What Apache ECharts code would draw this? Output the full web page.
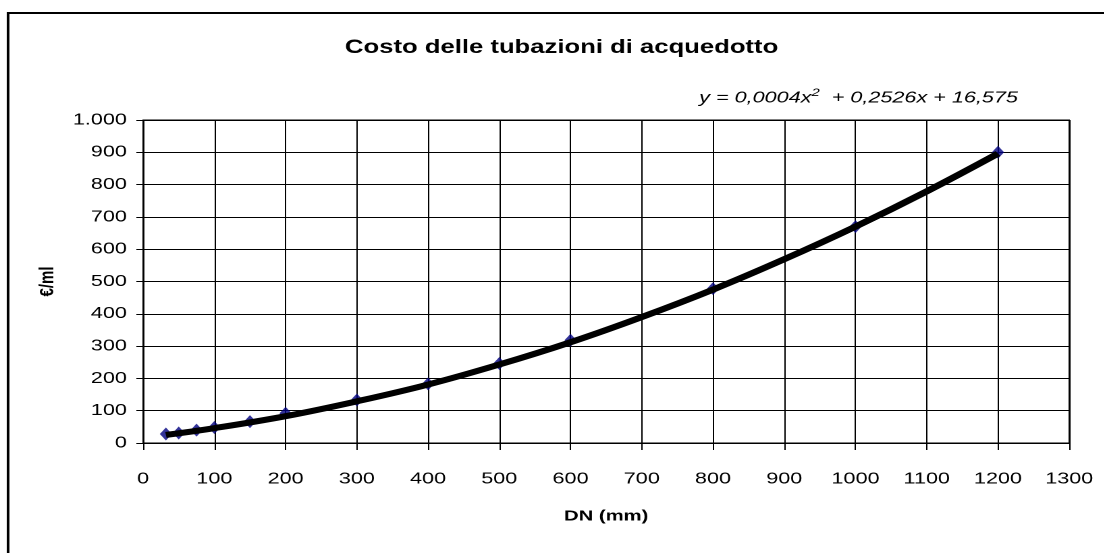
<!DOCTYPE html>
<html>
<head>
<meta charset="utf-8">
<script src="https://cdn.jsdelivr.net/npm/echarts@6/dist/echarts.min.js"></script>
<style>
html,body{margin:0;padding:0;background:#fff;overflow:hidden;}
#wrap{width:1104px;height:553px;overflow:hidden;position:relative;}
/* the reference picture is stretched horizontally; reproduce that stretch */
#c{width:818px;height:553px;transform:scaleX(1.35);transform-origin:0 0;position:absolute;left:0;top:0;}
</style>
</head>
<body>
<div id="wrap"><div id="c"></div></div>
<script>
// Data
const dn = [32, 50, 75, 100, 150, 200, 300, 400, 500, 600, 800, 1000, 1200];
const cost = [28, 31, 40, 48, 66, 92, 133, 183, 246, 318, 478, 670, 900];
// Polynomial trendline
const trendDN = [32, 100, 200, 300, 400, 500, 600, 700, 800, 900, 1000, 1100, 1200];
const trendCost = [25, 46, 83, 129, 181, 243, 312, 390, 475, 569, 670, 779, 896];
const titleText = 'Costo delle tubazioni di acquedotto';
const xName = 'DN (mm)';
const yName = '€/ml';

const FONT = '"Liberation Sans", Arial, sans-serif';
const chart = echarts.init(document.getElementById('c'), null, {renderer: 'canvas', devicePixelRatio: 2});

function thousands(v) {
  return String(v).replace(/\B(?=(\d{3})+(?!\d))/g, '.');
}
function plain(v) {
  return String(v);
}

chart.setOption({
  animation: false,
  backgroundColor: '#fff',
  grid: {left: 106, right: 26, top: 120, bottom: 110, containLabel: false, show: true, borderColor: '#000', borderWidth: 1},
  graphic: [
    {type: 'rect', shape: {x: 6, y: 13, width: 900, height: 570}, style: {fill: null, stroke: '#000', lineWidth: 2}, silent: true},
    {type: 'text', x: 416, y: 48, style: {text: titleText, font: 'bold 19px ' + FONT, fill: '#000', align: 'center', verticalAlign: 'middle'}},
    {type: 'text', x: 754, y: 98, style: {
      text: '{a|y = 0,0004x}{s|2}{a|  + 0,2526x + 16,575}',
      align: 'right', verticalAlign: 'middle',
      rich: {
        a: {font: 'italic 16px ' + FONT, fill: '#000'},
        s: {font: 'italic 11px ' + FONT, fill: '#000', verticalAlign: 'top', padding: [0, 0, 10, 0]}
      }
    }}
  ],
  xAxis: {
    type: 'value', min: 0, max: 1300, interval: 100,
    name: xName, nameLocation: 'middle', nameGap: 66,
    nameTextStyle: {fontFamily: FONT, fontSize: 15, fontWeight: 'bold', color: '#000'},
    axisLine: {show: true, onZero: false, lineStyle: {color: '#000', width: 1}},
    axisTick: {show: true, inside: false, length: 7, lineStyle: {color: '#000'}},
    axisLabel: {fontFamily: FONT, fontSize: 16, color: '#000', margin: 28, formatter: plain},
    splitLine: {show: true, lineStyle: {color: '#000', width: 1}}
  },
  yAxis: {
    type: 'value', min: 0, max: 1000, interval: 100,
    name: yName, nameLocation: 'middle', nameGap: 53, nameRotate: 90,
    nameTextStyle: {fontFamily: FONT, fontSize: 15, fontWeight: 'bold', color: '#000'},
    axisLine: {show: true, lineStyle: {color: '#000', width: 1}},
    axisTick: {show: true, inside: false, length: 5, lineStyle: {color: '#000'}},
    axisLabel: {fontFamily: FONT, fontSize: 16, color: '#000', margin: 12, formatter: thousands},
    splitLine: {show: true, lineStyle: {color: '#000', width: 1}}
  },
  series: [
    {
      type: 'scatter', name: 'Costo',
      data: dn.map((d, i) => [d, cost[i]]),
      symbol: 'diamond', symbolSize: [9, 13],
      itemStyle: {color: '#000080'},
      z: 2
    },
    {
      type: 'line', name: 'Trend',
      data: trendDN.map((d, i) => [d, trendCost[i]]),
      smooth: 0.4, showSymbol: false, symbol: 'none',
      lineStyle: {color: '#000', width: 6},
      z: 3
    }
  ]
});
</script>
</body>
</html>
